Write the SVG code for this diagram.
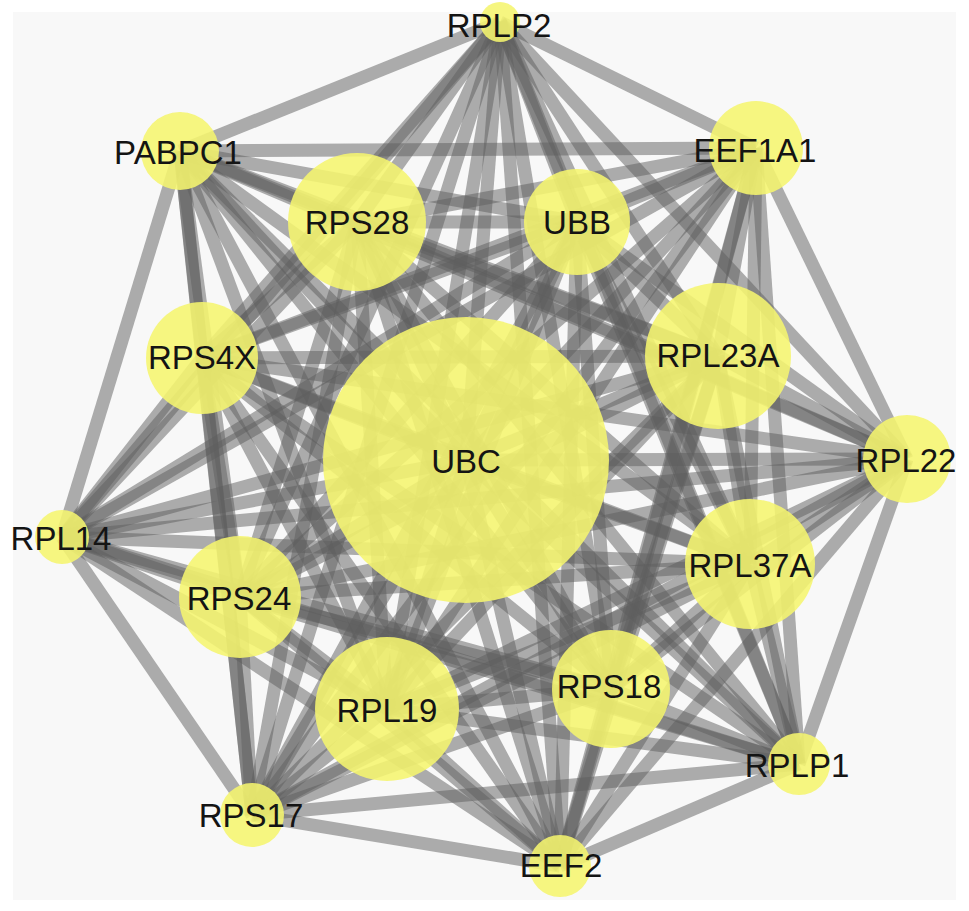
<svg xmlns="http://www.w3.org/2000/svg" width="969" height="911" viewBox="0 0 969 911">
<style>
.e path{fill:none;stroke:#5e5e5e;stroke-opacity:0.5;stroke-width:13;stroke-linecap:butt}
.n circle{fill:#f5f56e;fill-opacity:0.88}
.n text{font-family:"Liberation Sans",Arial,sans-serif;font-size:33px;fill:#141414;text-anchor:middle;dominant-baseline:central}
</style>
<rect x="0" y="0" width="969" height="911" fill="#ffffff"/>
<rect x="13" y="12" width="943" height="888" fill="#f8f8f8"/>
<g id="edges" class="e">
<path d="M500 22 180 151"/><path d="M500 22 756 148"/><path d="M500 22 357 222"/><path d="M500 22 577 222"/><path d="M500 22 202 358"/><path d="M500 22 718 356"/><path d="M500 22 466 460"/><path d="M500 22 907 459"/><path d="M500 22 62 537"/><path d="M500 22 240 597"/><path d="M500 22 750 564"/><path d="M500 22 387 709"/><path d="M500 22 611 689"/><path d="M500 22 799 764"/><path d="M500 22 252 815"/><path d="M500 22 560 866"/>
<path d="M180 151 756 148"/><path d="M180 151 357 222"/><path d="M180 151 577 222"/><path d="M180 151 202 358"/><path d="M180 151 718 356"/><path d="M180 151 466 460"/><path d="M180 151 907 459"/><path d="M180 151 62 537"/><path d="M180 151 240 597"/><path d="M180 151 750 564"/><path d="M180 151 387 709"/><path d="M180 151 611 689"/><path d="M180 151 799 764"/><path d="M180 151 252 815"/><path d="M180 151 560 866"/>
<path d="M756 148 357 222"/><path d="M756 148 577 222"/><path d="M756 148 202 358"/><path d="M756 148 718 356"/><path d="M756 148 466 460"/><path d="M756 148 907 459"/><path d="M756 148 62 537"/><path d="M756 148 240 597"/><path d="M756 148 750 564"/><path d="M756 148 387 709"/><path d="M756 148 611 689"/><path d="M756 148 799 764"/><path d="M756 148 252 815"/><path d="M756 148 560 866"/>
<path d="M357 222 577 222"/><path d="M357 222 202 358"/><path d="M357 222 718 356"/><path d="M357 222 466 460"/><path d="M357 222 907 459"/><path d="M357 222 62 537"/><path d="M357 222 240 597"/><path d="M357 222 750 564"/><path d="M357 222 387 709"/><path d="M357 222 611 689"/><path d="M357 222 799 764"/><path d="M357 222 252 815"/><path d="M357 222 560 866"/>
<path d="M577 222 202 358"/><path d="M577 222 718 356"/><path d="M577 222 466 460"/><path d="M577 222 907 459"/><path d="M577 222 62 537"/><path d="M577 222 240 597"/><path d="M577 222 750 564"/><path d="M577 222 387 709"/><path d="M577 222 611 689"/><path d="M577 222 799 764"/><path d="M577 222 252 815"/><path d="M577 222 560 866"/>
<path d="M202 358 718 356"/><path d="M202 358 466 460"/><path d="M202 358 907 459"/><path d="M202 358 62 537"/><path d="M202 358 240 597"/><path d="M202 358 750 564"/><path d="M202 358 387 709"/><path d="M202 358 611 689"/><path d="M202 358 799 764"/><path d="M202 358 252 815"/><path d="M202 358 560 866"/>
<path d="M718 356 466 460"/><path d="M718 356 907 459"/><path d="M718 356 62 537"/><path d="M718 356 240 597"/><path d="M718 356 750 564"/><path d="M718 356 387 709"/><path d="M718 356 611 689"/><path d="M718 356 799 764"/><path d="M718 356 252 815"/><path d="M718 356 560 866"/>
<path d="M466 460 907 459"/><path d="M466 460 62 537"/><path d="M466 460 240 597"/><path d="M466 460 750 564"/><path d="M466 460 387 709"/><path d="M466 460 611 689"/><path d="M466 460 799 764"/><path d="M466 460 252 815"/><path d="M466 460 560 866"/>
<path d="M907 459 62 537"/><path d="M907 459 240 597"/><path d="M907 459 750 564"/><path d="M907 459 387 709"/><path d="M907 459 611 689"/><path d="M907 459 799 764"/><path d="M907 459 252 815"/><path d="M907 459 560 866"/>
<path d="M62 537 240 597"/><path d="M62 537 750 564"/><path d="M62 537 387 709"/><path d="M62 537 611 689"/><path d="M62 537 799 764"/><path d="M62 537 252 815"/><path d="M62 537 560 866"/>
<path d="M240 597 750 564"/><path d="M240 597 387 709"/><path d="M240 597 611 689"/><path d="M240 597 799 764"/><path d="M240 597 252 815"/><path d="M240 597 560 866"/>
<path d="M750 564 387 709"/><path d="M750 564 611 689"/><path d="M750 564 799 764"/><path d="M750 564 252 815"/><path d="M750 564 560 866"/>
<path d="M387 709 611 689"/><path d="M387 709 799 764"/><path d="M387 709 252 815"/><path d="M387 709 560 866"/>
<path d="M611 689 799 764"/><path d="M611 689 252 815"/><path d="M611 689 560 866"/>
<path d="M799 764 252 815"/><path d="M799 764 560 866"/>
<path d="M252 815 560 866"/>
</g>
<g id="UBC" class="n"><circle cx="466" cy="460" r="143"/><text x="466" y="461">UBC</text></g>
<g id="RPLP2" class="n"><circle cx="500" cy="22" r="20"/><text x="499" y="25">RPLP2</text></g>
<g id="PABPC1" class="n"><circle cx="180" cy="151" r="39"/><text x="178" y="152">PABPC1</text></g>
<g id="EEF1A1" class="n"><circle cx="756" cy="148" r="47"/><text x="755" y="150">EEF1A1</text></g>
<g id="RPS28" class="n"><circle cx="357" cy="222" r="69"/><text x="357" y="222">RPS28</text></g>
<g id="UBB" class="n"><circle cx="577" cy="222" r="53"/><text x="577" y="222">UBB</text></g>
<g id="RPS4X" class="n"><circle cx="202" cy="358" r="56"/><text x="202" y="357">RPS4X</text></g>
<g id="RPL23A" class="n"><circle cx="718" cy="356" r="73"/><text x="718" y="355">RPL23A</text></g>
<g id="RPL22" class="n"><circle cx="907" cy="459" r="44"/><text x="906" y="460">RPL22</text></g>
<g id="RPL14" class="n"><circle cx="62" cy="537" r="27"/><text x="61" y="538">RPL14</text></g>
<g id="RPS24" class="n"><circle cx="240" cy="597" r="61"/><text x="239" y="598">RPS24</text></g>
<g id="RPL37A" class="n"><circle cx="750" cy="564" r="65"/><text x="750" y="565">RPL37A</text></g>
<g id="RPL19" class="n"><circle cx="387" cy="709" r="72"/><text x="387" y="710">RPL19</text></g>
<g id="RPS18" class="n"><circle cx="611" cy="689" r="59"/><text x="609" y="686">RPS18</text></g>
<g id="RPLP1" class="n"><circle cx="799" cy="764" r="31"/><text x="797" y="765">RPLP1</text></g>
<g id="RPS17" class="n"><circle cx="252" cy="815" r="32"/><text x="251" y="815">RPS17</text></g>
<g id="EEF2" class="n"><circle cx="560" cy="866" r="31"/><text x="561" y="865">EEF2</text></g>
</svg>
